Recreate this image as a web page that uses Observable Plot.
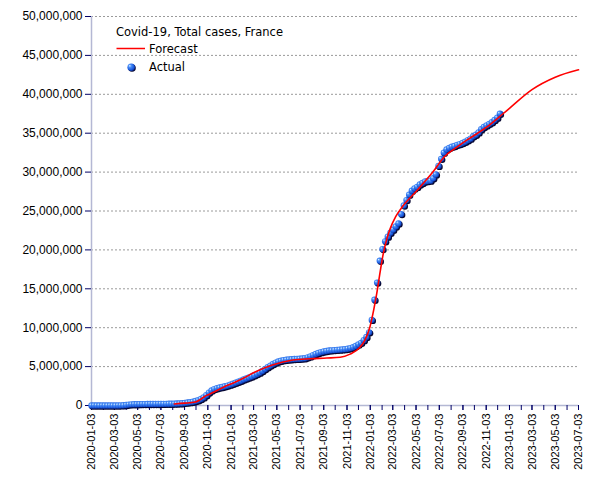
<!DOCTYPE html>
<html><head><meta charset="utf-8">
<script src="https://cdn.jsdelivr.net/npm/d3@7"></script>
<script src="https://cdn.jsdelivr.net/npm/@observablehq/plot@0.6"></script>
<style>body{margin:0;background:#fff}#chart{width:605px;height:480px}</style>
</head><body><div id="chart"></div>
<script>
// ---- data ----
const titleText = "Covid-19, Total cases, France";
const seriesNames = ["Forecast", "Actual"];
const xTickLabels = ["2020-01-03","2020-03-03","2020-05-03","2020-07-03","2020-09-03","2020-11-03",
  "2021-01-03","2021-03-03","2021-05-03","2021-07-03","2021-09-03","2021-11-03",
  "2022-01-03","2022-03-03","2022-05-03","2022-07-03","2022-09-03","2022-11-03",
  "2023-01-03","2023-03-03","2023-05-03","2023-07-03"];
const yTicks = [0,5e6,10e6,15e6,20e6,25e6,30e6,35e6,40e6,45e6,50e6];

// Actual totals (millions), weekly readings (Fridays)
const actual2020Start = "2020-01-03";
const actual2020 = [0,0,0,0,0, 0,0,0,0, 0.0004,0.004,0.013,0.033, 0.065,0.118,0.148,0.159,
  0.168,0.176,0.179,0.182,0.187, 0.19,0.194,0.197,0.2, 0.204,0.208,0.212,0.217,0.225,
  0.235,0.25,0.27,0.296, 0.34,0.38,0.43,0.49, 0.57,0.68,0.84,1.04,1.33,
  1.66,1.92,2.11,2.22, 2.31,2.38,2.47,2.56];
const actual2021Start = "2021-01-01";
const actual2021 = [2.68,2.80,2.93,3.06,3.19, 3.34,3.47,3.60,3.73, 3.88,4.04,4.22,4.44,
  4.68,4.92,5.13,5.33,5.51, 5.65,5.75,5.83,5.88, 5.92,5.95,5.97,5.99,
  6.01,6.04,6.08,6.19,6.31, 6.47,6.62,6.75,6.86, 6.95,7.01,7.06,7.09,
  7.12,7.15,7.18,7.21,7.24, 7.30,7.37,7.48,7.64, 7.85,8.05,8.4,8.8,9.4];
const actual2022Start = "2022-01-07";
const actual2022 = [11.0,13.6,15.8,18.6, 20.1,21.1,21.7,22.2, 22.6,23.0,23.4,24.6,
  25.7,26.4,27.1,27.6,27.9, 28.1,28.4,28.6,28.8, 28.85,28.9,29.2,29.7,
  30.8,31.7,32.5,32.9,33.1, 33.25,33.35,33.5,33.6, 33.75,33.9,34.1,34.3,34.6,
  34.8,35.1,35.5,35.8, 36.0,36.2,36.4,36.7, 37.0,37.5];

// Forecast curve (millions)
const forecastDates = ["2020-08-07","2020-09-04","2020-10-01","2020-10-31","2020-11-18","2020-12-14",
  "2021-01-09","2021-02-04","2021-03-07","2021-04-21","2021-06-14","2021-07-29","2021-09-11",
  "2021-10-16","2021-11-11","2021-12-07","2021-12-20","2022-01-02","2022-01-12","2022-01-20",
  "2022-01-29","2022-02-06","2022-02-16","2022-02-24","2022-03-11","2022-03-29","2022-05-05",
  "2022-06-16","2022-07-17","2022-08-18","2022-09-13","2022-11-05","2022-12-17","2023-01-03",
  "2023-03-03","2023-05-03","2023-07-03"];
const forecastValues = [0.2,0.3,0.45,1.3,1.7,2.35,
  2.9,3.5,4.3,5.2,5.85,6.0,6.1,
  6.2,6.6,7.5,8.4,10.1,12.3,14.4,
  17.2,19.5,21.5,22.7,24.3,25.6,27.6,
  30.0,32.0,33.2,34.1,35.8,37.5,38.2,
  40.6,42.2,43.15];

// ---- build ----
const parse = d3.utcParse("%Y-%m-%d");
function weekly(start, values) {
  const s = parse(start);
  return values.map((v, i) => ({date: d3.utcDay.offset(s, 7 * i), value: v * 1e6}));
}
const actual = [...weekly(actual2020Start, actual2020), ...weekly(actual2021Start, actual2021), ...weekly(actual2022Start, actual2022)];
const forecast = forecastDates.map((d, i) => ({date: parse(d), value: forecastValues[i] * 1e6}));
const xLabelDates = xTickLabels.map(parse);
const x0 = xLabelDates[0], x1 = xLabelDates[xLabelDates.length - 1];
const monthTicks = d3.utcMonth.range(parse("2020-01-01"), parse("2023-07-02")).map(d => d3.utcDay.offset(d, 2));

const axisCol = "#b4b8d4";
const tickCol = "#000066";

const plot = Plot.plot({
  width: 605, height: 480,
  marginLeft: 91, marginRight: 27, marginTop: 16, marginBottom: 75,
  style: {fontFamily: "'Liberation Sans', Arial, sans-serif", fontSize: "12px", color: "#000", background: "#fff", overflow: "visible"},
  x: {type: "utc", domain: [x0, x1], label: null},
  y: {domain: [0, 50e6], label: null},
  marks: [
    Plot.ruleY(yTicks.filter(d => d > 0), {stroke: "#9a9a9a", strokeDasharray: "2,2", strokeWidth: 1}),
    Plot.ruleX([x0], {stroke: axisCol, strokeWidth: 1.5}),
    Plot.ruleY([0], {stroke: axisCol, strokeWidth: 1.5}),
    Plot.axisY({ticks: yTicks, tickFormat: d3.format(","), tickSize: 6, tickPadding: 3, stroke: tickCol, fill: "#000", fontSize: 12, label: null}),
    Plot.axisX({ticks: monthTicks, tickFormat: () => "", tickSize: 5, stroke: tickCol, label: null}),
    Plot.axisX({ticks: xLabelDates, tickFormat: d3.utcFormat("%Y-%m-%d"), tickRotate: -90, tickSize: 5, tickPadding: 3, stroke: tickCol, fill: "#000", fontSize: 11, label: null}),
    Plot.dot(actual, {x: "date", y: "value", r: 3.2, fill: "#060630", dx: 1, dy: 1}),
    Plot.dot(actual, {x: "date", y: "value", r: 3.2, fill: "url(#ball)"}),
    Plot.line(forecast, {x: "date", y: "value", stroke: "#ff0000", strokeWidth: 1.6, curve: "monotone-x"})
  ]
});

const svg = d3.select(plot);
const defs = svg.insert("defs", ":first-child");
const grad = defs.append("radialGradient").attr("id", "ball")
  .attr("cx", "0.4").attr("cy", "0.4").attr("r", "0.65").attr("fx", "0.3").attr("fy", "0.3");
[["0", "#d8ecff"], ["0.3", "#4a8ff8"], ["0.75", "#1a58dc"], ["1", "#0a2a90"]]
  .forEach(([o, c]) => grad.append("stop").attr("offset", o).attr("stop-color", c));

const lg = svg.append("g")
  .attr("font-family", "'DejaVu Sans', sans-serif").attr("font-size", "11.5px")
  .attr("fill", "#000").attr("text-anchor", "start");
lg.append("text").attr("x", 116).attr("y", 35.5).attr("text-anchor", "start").text(titleText);
lg.append("line").attr("x1", 116.5).attr("x2", 145).attr("y1", 48.5).attr("y2", 48.5).attr("stroke", "#ff0000").attr("stroke-width", 1.5);
lg.append("text").attr("x", 149).attr("y", 52.5).attr("text-anchor", "start").text(seriesNames[0]);
lg.append("circle").attr("cx", 132).attr("cy", 68).attr("r", 3.8).attr("fill", "#060630");
lg.append("circle").attr("cx", 131.2).attr("cy", 67.2).attr("r", 3.8).attr("fill", "url(#ball)");
lg.append("text").attr("x", 149).attr("y", 71).attr("text-anchor", "start").text(seriesNames[1]);

document.getElementById("chart").appendChild(plot);
</script>
</body></html>
